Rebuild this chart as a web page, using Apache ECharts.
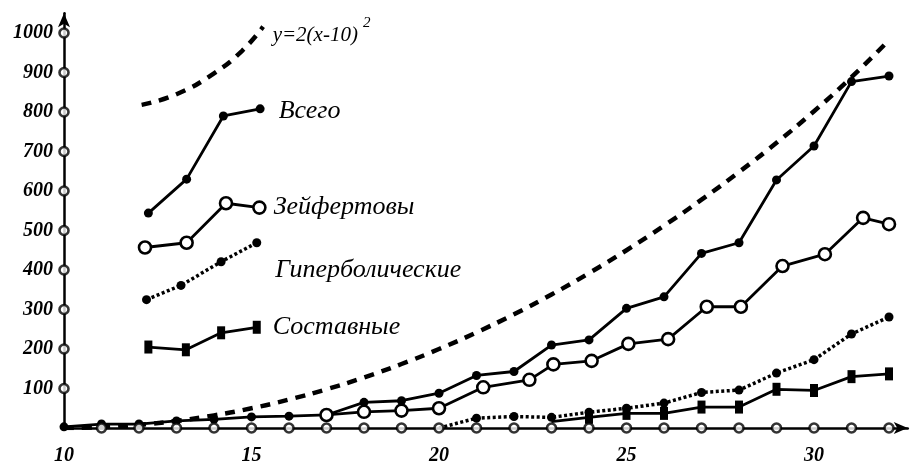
<!DOCTYPE html>
<html>
<head>
<meta charset="utf-8">
<script src="https://cdn.jsdelivr.net/npm/echarts@6/dist/echarts.min.js"></script>
<style>html,body{margin:0;padding:0;background:#fff}#c{width:912px;height:467px}</style>
</head>
<body>
<div id="c"></div>
<script>
// ---- data ----
const curveX = [10,11,12,13,14,15,16,17,18,19,20,21,22,23,24,25,26,27,28,29,30,31,32];
const curveY = [0,2,8,18,32,50,72,98,128,162,200,242,288,338,392,450,512,578,648,722,802,888,982];

const totalX = [10,11,12,13,14,15,16,17,18,19,20,21,22,23,24,25,26,27,28,29,30,31,32];
const totalY = [3,10,10,18,22,28,30,33,65,69,88,133,143,210,223,303,332,442,469,628,714,877,891];

const seyfertX = [17,18,19,20,21.18,22.41,23.05,24.07,25.05,26.11,27.14,28.05,29.16,30.29,31.31,32];
const seyfertY = [33,41,44,50,103,122,161,170,213,225,307,307,410,440,532,516];

const hyperX = [20,21,22,23,24,25,26,27,28,29,30,31,32];
const hyperY = [0,25,29,27,40,50,63,90,96,139,173,238,281];

const compX = [23,24,25,26,27,28,29,30,31,32];
const compY = [16,27,37,37,53,53,98,95,130,137];

// legend samples (drawn inside the plot, in data coordinates)
const legCurveX = [12.07,13.0,14.0,14.75,15.31];
const legCurveY = [818,845,898,955,1016];
const legTotalX = [12.25,13.27,14.25,15.23];
const legTotalY = [544,630,790,808];
const legSeyX = [12.16,13.27,14.32,15.21];
const legSeyY = [457,469,569,558];
const legHypX = [12.2,13.12,14.19,15.14];
const legHypY = [325,361,421,469];
const legCompX = [12.25,13.25,14.19,15.14];
const legCompY = [205,198,241,255];

const names = ['Всего','Зейфертовы','Гиперболические','Составные'];
const curveLabel = 'y=2(x-10)';
const curveExp = '2';

const xTickMarks = [11,12,13,14,15,16,17,18,19,20,21,22,23,24,25,26,27,28,29,30,31,32];
const yTickMarks = [100,200,300,400,500,600,700,800,900,1000];

// ---- build ----
const FONT = '"Liberation Serif","Times New Roman",serif';
const pairs = (xs, ys) => xs.map((x, i) => [x, ys[i]]);
function withLabel(xs, ys, text, dy, dist) {
  const d = pairs(xs, ys).map(v => ({ value: v }));
  d[d.length - 1].label = {
    show: true, position: 'right', distance: dist, offset: [0, dy || 0], formatter: text,
    fontFamily: FONT, fontStyle: 'italic', fontSize: 26, color: '#000'
  };
  return d;
}
const filledDot = { symbol: 'circle', symbolSize: 9, itemStyle: { color: '#000' } };
const openDot = { symbol: 'circle', symbolSize: 12, itemStyle: { color: '#fff', borderColor: '#000', borderWidth: 2.6 } };
const square = { symbol: 'rect', symbolSize: [8, 13], itemStyle: { color: '#000' } };
const solid = { color: '#000', width: 2.8, type: 'solid' };
const dotted = { color: '#000', width: 3.5, type: [3, 2.5] };
const dashed = { color: '#000', width: 4.5, type: [10, 8] };

function lineSeries(name, data, marker, ls, extra) {
  return Object.assign({ name, type: 'line', data, lineStyle: ls, showAllSymbol: true,
    emphasis: { disabled: true }, z: 3 }, marker, extra || {});
}

const hyperData = pairs(hyperX, hyperY).map(v => ({ value: v }));
hyperData[0].symbol = 'none';
const compData = pairs(compX, compY).map(v => ({ value: v }));
compData[0].symbol = 'none';

const curveLegData = pairs(legCurveX, legCurveY).map(v => ({ value: v, symbol: 'none' }));
const lastC = curveLegData[curveLegData.length - 1];
lastC.symbol = 'circle';
lastC.symbolSize = 1;
lastC.itemStyle = { color: 'rgba(0,0,0,0)' };
lastC.label = {
  show: true, position: 'right', distance: 9, offset: [0, 4],
  formatter: '{a|' + curveLabel + '}{s|' + curveExp + '}',
  rich: {
    a: { fontFamily: FONT, fontStyle: 'italic', fontSize: 21, color: '#000', lineHeight: 30, verticalAlign: 'bottom' },
    s: { fontFamily: FONT, fontStyle: 'italic', fontSize: 15, color: '#000', lineHeight: 14, verticalAlign: 'top', padding: [0, 0, 0, 5] }
  }
};

const option = {
  animation: false,
  backgroundColor: '#fff',
  grid: { left: 64, top: 13.25, width: 843.75, height: 414.75, containLabel: false },
  xAxis: {
    type: 'value', min: 10, max: 32.5, interval: 1,
    axisLine: { show: true, onZero: false, symbol: ['none', 'arrow'], symbolSize: [9, 14], lineStyle: { color: '#000', width: 2.5 } },
    axisTick: { show: false }, splitLine: { show: false },
    axisLabel: { margin: 18, fontFamily: FONT, fontStyle: 'italic', fontWeight: 'bold', fontSize: 20, color: '#000',
      formatter: v => (v % 5 === 0 && v <= 30) ? String(v) : '' }
  },
  yAxis: {
    type: 'value', min: 0, max: 1050, interval: 100,
    axisLine: { show: true, onZero: false, symbol: ['none', 'arrow'], symbolSize: [9, 14], lineStyle: { color: '#000', width: 2.5 } },
    axisTick: { show: false }, splitLine: { show: false },
    axisLabel: { margin: 11, fontFamily: FONT, fontStyle: 'italic', fontWeight: 'bold', fontSize: 20, color: '#000',
      formatter: v => (v > 0 && v <= 1000 && v % 100 === 0) ? String(v) : '' }
  },
  series: [
    lineSeries('curve', pairs(curveX, curveY), { symbol: 'none' }, dashed, { smooth: true }),
    lineSeries(names[0], pairs(totalX, totalY), filledDot, solid),
    lineSeries(names[1], pairs(seyfertX, seyfertY), openDot, solid, { z: 4 }),
    lineSeries(names[2], hyperData, filledDot, dotted),
    lineSeries(names[3], compData, square, solid),
    lineSeries('legCurve', curveLegData, {}, dashed, { smooth: true }),
    lineSeries('legTotal', withLabel(legTotalX, legTotalY, names[0], 2, 14), filledDot, solid),
    lineSeries('legSey', withLabel(legSeyX, legSeyY, names[1], 0, 7), openDot, solid),
    lineSeries('legHyp', withLabel(legHypX, legHypY, names[2], 27, 14), filledDot, dotted),
    lineSeries('legComp', withLabel(legCompX, legCompY, names[3], 0, 12), square, solid),
    { type: 'scatter', name: 'xticks', data: xTickMarks.map(x => [x, 0]), symbol: 'circle', symbolSize: 9,
      itemStyle: { color: '#fff', borderColor: '#000', borderWidth: 2.6 }, z: 6, emphasis: { disabled: true } },
    { type: 'scatter', name: 'yticks', data: yTickMarks.map(y => [10, y]), symbol: 'circle', symbolSize: 9,
      itemStyle: { color: '#fff', borderColor: '#000', borderWidth: 2.6 }, z: 6, emphasis: { disabled: true } }
  ]
};
const chart = echarts.init(document.getElementById('c'), null, { renderer: 'canvas' });
chart.setOption(option);
</script>
</body>
</html>
